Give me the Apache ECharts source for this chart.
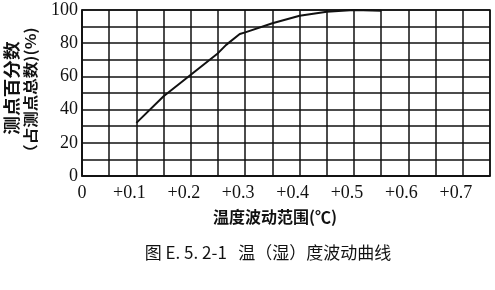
<!DOCTYPE html>
<html><head><meta charset="utf-8">
<script src="https://cdn.jsdelivr.net/npm/echarts@6/dist/echarts.min.js"></script>
<style>html,body{margin:0;padding:0;background:#fff}#c{width:495px;height:290px}</style>
</head><body><div id="c"></div>
<script>
const xValues = [0.1, 0.15, 0.2, 0.25, 0.265, 0.29, 0.3, 0.35, 0.4, 0.45, 0.5, 0.55];
const yValues = [32, 48, 61, 74, 79, 85.5, 86.5, 92, 96.5, 99, 100, 99.5];
const xTickLabels = ['0', '+0.1', '+0.2', '+0.3', '+0.4', '+0.5', '+0.6', '+0.7'];
const yTickLabels = ['0', '20', '40', '60', '80', '100'];
const yNameLine1 = '测点百分数';
const yNameLine2 = '（占测点总数)(%)';
const xName = '温度波动范围(℃)';
const caption = '图 E. 5. 2-1   温（湿）度波动曲线';

const chart = echarts.init(document.getElementById('c'), null, {renderer: 'canvas'});
const serif = '"Liberation Serif", "Times New Roman", serif';
const cjk = '"Noto Sans CJK SC", sans-serif';
chart.setOption({
  animation: false,
  backgroundColor: '#fff',
  grid: {left: 82, right: 5, top: 10, bottom: 114, show: true, borderColor: '#111', borderWidth: 1.5},
  xAxis: {
    type: 'value', min: 0, max: 0.75, interval: 0.05,
    axisLine: {show: true, lineStyle: {color: '#111', width: 1.5}},
    axisTick: {show: false},
    splitLine: {show: true, lineStyle: {color: '#111', width: 1.5}},
    axisLabel: {
      margin: 8, color: '#111', fontFamily: serif, fontSize: 18,
      showMaxLabel: false,
      formatter: function (v) {
        const r = Math.round(v * 100);
        if (r % 10 !== 0) return '';
        const t = xTickLabels[r / 10];
        if (t === undefined) return '';
        return r === 0 ? '{z|' + t + '}' : '{p|' + t + '}';
      },
      rich: {
        z: {fontFamily: serif, fontSize: 18, color: '#111'},
        p: {fontFamily: serif, fontSize: 18, color: '#111', padding: [0, 14, 0, 0]}
      }
    }
  },
  yAxis: {
    type: 'value', min: 0, max: 100, interval: 10,
    axisLine: {show: true, lineStyle: {color: '#111', width: 1.5}},
    axisTick: {show: false},
    splitLine: {show: true, lineStyle: {color: '#111', width: 1.5}},
    axisLabel: {
      margin: 4, color: '#111', fontFamily: serif, fontSize: 18,
      formatter: function (v) {
        const r = Math.round(v);
        if (r % 20 !== 0) return '';
        return yTickLabels[r / 20];
      }
    }
  },
  series: [{
    type: 'line',
    data: xValues.map((x, i) => [x, yValues[i]]),
    showSymbol: false,
    lineStyle: {color: '#111', width: 2},
    z: 5
  }],
  graphic: [
    {type: 'text', x: 12, y: 88, rotation: Math.PI / 2, scaleX: 1.1,
     style: {text: yNameLine1, font: 'bold 17px ' + cjk, fill: '#111', textAlign: 'center', textVerticalAlign: 'middle'}},
    {type: 'text', x: 30, y: 94, rotation: Math.PI / 2, scaleX: 1.1,
     style: {text: yNameLine2, font: 'bold 15px ' + cjk, fill: '#111', textAlign: 'center', textVerticalAlign: 'middle'}},
    {type: 'text', x: 275, y: 217,
     style: {text: xName, font: 'bold 16px ' + cjk, fill: '#111', textAlign: 'center', textVerticalAlign: 'middle'}},
    {type: 'text', x: 268, y: 253,
     style: {text: caption, font: '17px ' + cjk, fill: '#111', textAlign: 'center', textVerticalAlign: 'middle'}}
  ]
});
</script></body></html>
